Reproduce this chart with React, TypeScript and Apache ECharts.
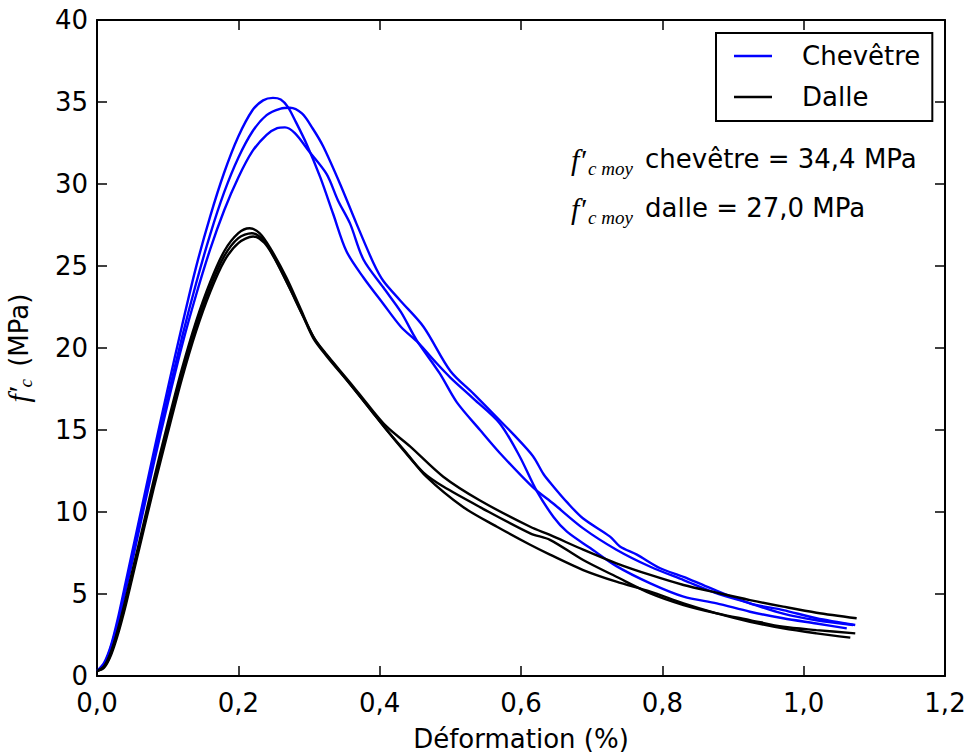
import React, { useEffect, useRef } from "react";
import * as echarts from "echarts";

// Stress–strain curves, three cores per element (strain in %, stress in MPa)
const chevetre1: [number, number][] = [
  [0, 0.3], [0.01, 0.8], [0.02, 1.9], [0.03, 3.6], [0.04, 5.6], [0.05, 7.6], [0.06, 9.6],
  [0.08, 13.6], [0.1, 17.5], [0.12, 21.3], [0.14, 24.9], [0.16, 28.0], [0.18, 30.7],
  [0.2, 32.9], [0.22, 34.5], [0.235, 35.1], [0.249, 35.25], [0.26, 35.15], [0.27, 34.7],
  [0.28, 33.9], [0.297, 32.4], [0.316, 30.4], [0.334, 28.2], [0.353, 25.9], [0.377, 24.3],
  [0.405, 22.7], [0.43, 21.3], [0.455, 20.3], [0.48, 19.1], [0.5, 18.2], [0.533, 16.9],
  [0.57, 15.4], [0.598, 13.4], [0.622, 11.3], [0.646, 9.7], [0.665, 8.8], [0.698, 7.8],
  [0.735, 6.7], [0.783, 5.65], [0.83, 4.84], [0.877, 4.43], [0.924, 3.92], [0.971, 3.52],
  [1.018, 3.2], [1.061, 2.9],
];
const chevetre2: [number, number][] = [
  [0, 0.3], [0.01, 0.7], [0.02, 1.8], [0.03, 3.4], [0.04, 5.3], [0.05, 7.3], [0.06, 9.3],
  [0.08, 13.2], [0.1, 17.0], [0.12, 20.6], [0.14, 23.9], [0.16, 26.9], [0.18, 29.5],
  [0.2, 31.6], [0.22, 33.2], [0.24, 34.2], [0.26, 34.6], [0.273, 34.65], [0.29, 34.3],
  [0.305, 33.4], [0.32, 32.3], [0.344, 30.0], [0.367, 27.6], [0.391, 25.2], [0.405, 24.1],
  [0.429, 22.9], [0.462, 21.3], [0.5, 18.6], [0.533, 17.2], [0.565, 15.8], [0.59, 14.7],
  [0.617, 13.4], [0.632, 12.3], [0.645, 11.6], [0.665, 10.6], [0.688, 9.6], [0.726, 8.5],
  [0.74, 7.9], [0.764, 7.4], [0.797, 6.57], [0.83, 6.05], [0.863, 5.45], [0.924, 4.43],
  [0.971, 4.02], [1.018, 3.52], [1.073, 3.11],
];
const chevetre3: [number, number][] = [
  [0, 0.3], [0.01, 0.7], [0.02, 1.7], [0.03, 3.3], [0.04, 5.1], [0.05, 7.0], [0.06, 9.0],
  [0.08, 12.9], [0.1, 16.6], [0.12, 20.1], [0.14, 23.2], [0.16, 26.0], [0.18, 28.4],
  [0.2, 30.4], [0.22, 32.0], [0.24, 33.0], [0.255, 33.4], [0.266, 33.45], [0.28, 33.1],
  [0.3, 32.0], [0.325, 30.6], [0.341, 29.0], [0.358, 27.6], [0.377, 25.4], [0.405, 23.7],
  [0.43, 22.2], [0.452, 20.5], [0.485, 18.45], [0.509, 16.7], [0.542, 15.0], [0.57, 13.6],
  [0.617, 11.5], [0.646, 10.5], [0.688, 9.0], [0.735, 7.7], [0.783, 6.66], [0.83, 5.85],
  [0.877, 5.04], [0.924, 4.43], [0.971, 3.8], [1.018, 3.4], [1.07, 3.11],
];
const dalle1: [number, number][] = [
  [0, 0.3], [0.01, 0.6], [0.02, 1.5], [0.03, 2.9], [0.04, 4.6], [0.05, 6.4], [0.06, 8.2],
  [0.08, 11.9], [0.1, 15.4], [0.12, 18.7], [0.14, 21.6], [0.16, 24.0], [0.18, 25.9],
  [0.2, 27.0], [0.216, 27.3], [0.23, 27.0], [0.245, 26.1], [0.268, 24.3], [0.287, 22.5],
  [0.306, 20.7], [0.325, 19.6], [0.358, 17.9], [0.386, 16.4], [0.41, 15.2], [0.443, 14.0],
  [0.49, 12.15], [0.542, 10.7], [0.613, 9.1], [0.641, 8.6], [0.688, 7.7], [0.735, 6.87],
  [0.783, 6.16], [0.83, 5.55], [0.877, 5.08], [0.924, 4.63], [0.971, 4.23], [1.018, 3.86],
  [1.075, 3.52],
];
const dalle2: [number, number][] = [
  [0, 0.3], [0.01, 0.55], [0.02, 1.4], [0.03, 2.8], [0.04, 4.4], [0.05, 6.2], [0.06, 8.0],
  [0.08, 11.6], [0.1, 15.1], [0.12, 18.4], [0.14, 21.3], [0.16, 23.7], [0.18, 25.6],
  [0.2, 26.7], [0.219, 27.0], [0.235, 26.6], [0.25, 25.6], [0.27, 23.9], [0.29, 22.1],
  [0.306, 20.6], [0.325, 19.5], [0.358, 17.8], [0.386, 16.3], [0.41, 15.0], [0.433, 13.8],
  [0.462, 12.4], [0.49, 11.55], [0.542, 10.3], [0.613, 8.7], [0.641, 8.3], [0.688, 7.07],
  [0.735, 6.05], [0.783, 5.04], [0.83, 4.33], [0.877, 3.82], [0.924, 3.41], [0.971, 3.0],
  [1.018, 2.8], [1.073, 2.6],
];
const dalle3: [number, number][] = [
  [0, 0.3], [0.01, 0.5], [0.02, 1.3], [0.03, 2.6], [0.04, 4.2], [0.05, 6.0], [0.06, 7.8],
  [0.08, 11.4], [0.1, 14.8], [0.12, 18.1], [0.14, 21.0], [0.16, 23.4], [0.18, 25.3],
  [0.2, 26.4], [0.221, 26.8], [0.237, 26.4], [0.252, 25.4], [0.272, 23.7], [0.292, 21.9],
  [0.31, 20.4], [0.33, 19.3], [0.36, 17.7], [0.386, 16.3], [0.41, 15.0], [0.438, 13.6],
  [0.466, 12.15], [0.518, 10.3], [0.566, 9.1], [0.613, 8.0], [0.641, 7.4], [0.688, 6.46],
  [0.735, 5.75], [0.783, 5.14], [0.83, 4.43], [0.877, 3.82], [0.924, 3.31], [0.971, 2.9],
  [1.018, 2.6], [1.066, 2.34],
];

const seriesNames = ["Chevêtre", "Dalle"];
const meanLabels = ["chevêtre = 34,4 MPa", "dalle = 27,0 MPa"];
const xAxisTitle = "Déformation (%)";

const SANS = '"DejaVu Sans", sans-serif';
const SERIF = '"Liberation Serif", "DejaVu Serif", serif';
const FS = 26;

function lineSeries(name: string, data: [number, number][], color: string) {
  return {
    type: "line",
    name,
    data,
    symbol: "none",
    showSymbol: false,
    smooth: 0.3,
    lineStyle: { color, width: 2.4 },
    itemStyle: { color },
    emphasis: { disabled: true },
    z: 3,
  };
}

function axisCommon(position: string, showLabels: boolean) {
  return {
    type: "value",
    position,
    axisLine: { show: true, onZero: false, lineStyle: { color: "#000", width: 2 } },
    axisTick: { show: true, inside: true, length: 10, lineStyle: { color: "#000", width: 1.5 } },
    splitLine: { show: false },
    axisLabel: {
      show: showLabels,
      color: "#000",
      fontSize: FS,
      fontFamily: SANS,
      showMinLabel: true,
      showMaxLabel: true,
    },
  };
}

export default function App() {
  const ref = useRef<HTMLDivElement>(null);

  useEffect(() => {
    if (!ref.current) return;
    const chart = echarts.init(ref.current, null, { renderer: "svg" });

    const meanText = (y: number, label: string) => [
      {
        type: "text",
        style: { x: 571, y, text: "f\u2032", font: `italic 30px ${SERIF}`, fill: "#000", verticalAlign: "middle" },
      },
      {
        type: "text",
        style: { x: 588, y: y + 9, text: "c moy", font: `italic 19px ${SERIF}`, fill: "#000", verticalAlign: "middle" },
      },
      {
        type: "text",
        style: { x: 645, y, text: label, font: `${FS}px ${SANS}`, fill: "#000", verticalAlign: "middle" },
      },
    ];

    chart.setOption({
      animation: false,
      backgroundColor: "#fff",
      grid: { left: 97, right: 26, top: 20, bottom: 79, containLabel: false, outerBoundsMode: "none" },
      xAxis: [
        {
          ...axisCommon("bottom", true),
          min: 0,
          max: 1.2,
          interval: 0.2,
          axisLabel: {
            ...axisCommon("bottom", true).axisLabel,
            margin: 14,
            formatter: (v: number) => v.toFixed(1).replace(".", ","),
          },
          name: xAxisTitle,
          nameLocation: "middle",
          nameGap: 50,
          nameTextStyle: { color: "#000", fontSize: FS, fontFamily: SANS },
        },
        { ...axisCommon("top", false), min: 0, max: 1.2, interval: 0.2 },
      ],
      yAxis: [
        {
          ...axisCommon("left", true),
          min: 0,
          max: 40,
          interval: 5,
          axisLabel: { ...axisCommon("left", true).axisLabel, margin: 9 },
          name: "{f|f\u2032}{s|c} (MPa)",
          nameLocation: "middle",
          nameGap: 62,
          nameTextStyle: {
            color: "#000",
            fontSize: FS,
            fontFamily: SANS,
            rich: {
              f: { fontFamily: SERIF, fontStyle: "italic", fontSize: 30, color: "#000" },
              s: { fontFamily: SERIF, fontStyle: "italic", fontSize: 19, color: "#000", padding: [14, 4, 0, 0] },
            },
          },
        },
        { ...axisCommon("right", false), min: 0, max: 40, interval: 5 },
      ],
      legend: {
        data: seriesNames,
        left: 716,
        top: 33,
        orient: "vertical",
        icon: "rect",
        itemWidth: 38,
        itemHeight: 2.4,
        itemGap: 13,
        padding: [9, 12, 10, 18],
        borderColor: "#000",
        borderWidth: 2,
        borderRadius: 0,
        backgroundColor: "#fff",
        selectedMode: false,
        textStyle: {
          color: "#000",
          fontSize: FS,
          fontFamily: SANS,
          lineHeight: 28,
          padding: [0, 0, 0, 25],
        },
      },
      graphic: [...meanText(159, meanLabels[0]), ...meanText(208, meanLabels[1])],
      series: [
        lineSeries(seriesNames[0], chevetre1, "#0000ff"),
        lineSeries(seriesNames[0], chevetre2, "#0000ff"),
        lineSeries(seriesNames[0], chevetre3, "#0000ff"),
        lineSeries(seriesNames[1], dalle1, "#000000"),
        lineSeries(seriesNames[1], dalle2, "#000000"),
        lineSeries(seriesNames[1], dalle3, "#000000"),
      ],
    });

    return () => chart.dispose();
  }, []);

  return (
    <div
      ref={ref}
      style={{ position: "fixed", left: 0, top: 0, width: 971, height: 755, background: "#fff" }}
    />
  );
}
